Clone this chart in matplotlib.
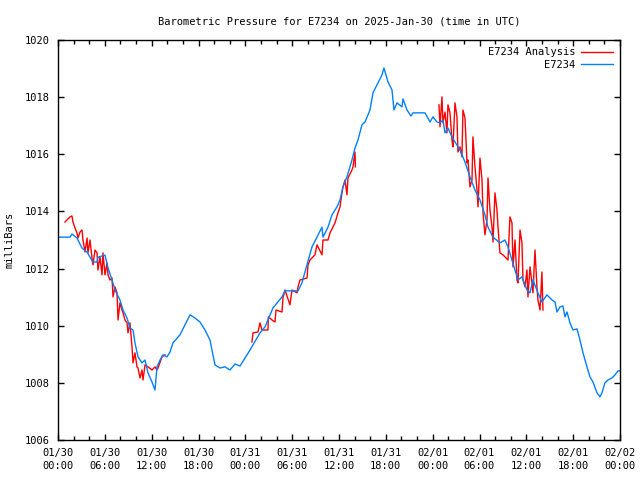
import numpy as np
import matplotlib
matplotlib.use("Agg")
import matplotlib.pyplot as plt

# hours since 2025-01-30 00:00 UTC
obs_hours = [0.00, 0.51, 1.54, 1.79, 2.43, 3.07, 3.72, 4.10, 4.48, 5.00, 5.12, 6.02, 6.41, 6.92,
             7.30, 7.94, 8.33, 8.84, 9.22, 9.61, 9.86, 10.25, 10.76, 11.15, 11.53, 12.04, 12.43,
             12.68, 13.07, 13.45, 13.96, 14.35, 14.73, 15.63, 16.27, 16.91, 17.55, 18.19, 18.83,
             19.47, 20.11, 20.75, 21.39, 22.03, 22.68, 23.32, 24.60, 24.98, 25.88, 26.52, 27.54,
             28.70, 29.08, 30.75, 31.26, 31.64, 32.54, 33.18, 33.82, 33.95, 34.59, 35.10, 35.74,
             36.13, 36.51, 37.02, 37.66, 38.05, 38.43, 38.94, 39.33, 39.97, 40.35, 40.87, 41.51,
             41.76, 42.28, 42.79, 43.04, 43.43, 44.07, 44.20, 44.71, 45.22, 45.48, 47.02, 47.66,
             48.04, 48.55, 48.94, 49.32, 49.58, 49.96, 50.47, 50.86, 51.50, 52.14, 52.78, 53.42,
             54.06, 54.70, 55.09, 55.73, 56.62, 57.26, 57.65, 58.16, 58.55, 58.93, 59.44, 60.08,
             60.47, 60.85, 61.49, 62.00, 62.64, 63.29, 63.67, 63.93, 64.31, 64.69, 64.95, 65.21,
             65.59, 65.98, 66.49, 66.87, 67.26, 67.77, 68.15, 68.54, 69.05, 69.43, 69.69, 70.07,
             70.46, 70.97, 71.36, 71.74, 72.00]
obs_mb = [1013.10, 1013.10, 1013.10, 1013.21, 1013.07, 1012.72, 1012.58, 1012.40, 1012.23, 1012.23,
          1012.40, 1012.47, 1012.02, 1011.60, 1011.25, 1010.90, 1010.55, 1010.27, 1009.92, 1009.85,
          1009.40, 1008.91, 1008.70, 1008.80, 1008.35, 1008.03, 1007.75, 1008.56, 1008.80, 1008.98,
          1008.91, 1009.08, 1009.40, 1009.68, 1010.03, 1010.38, 1010.27, 1010.13, 1009.85, 1009.50,
          1008.63, 1008.52, 1008.56, 1008.45, 1008.66, 1008.59, 1009.15, 1009.33, 1009.75, 1009.96,
          1010.62, 1011.01, 1011.22, 1011.22, 1011.50, 1011.88, 1012.76, 1013.10, 1013.45, 1013.10,
          1013.45, 1013.88, 1014.16, 1014.40, 1014.86, 1015.21, 1015.80, 1016.22, 1016.50, 1017.03,
          1017.13, 1017.55, 1018.15, 1018.43, 1018.78, 1019.02, 1018.53, 1018.25, 1017.55, 1017.80,
          1017.66, 1017.94, 1017.55, 1017.34, 1017.45, 1017.45, 1017.13, 1017.31, 1017.13, 1017.10,
          1017.20, 1016.75, 1016.92, 1016.61, 1016.43, 1016.15, 1015.73, 1015.21, 1014.75, 1014.40,
          1013.88, 1013.45, 1013.10, 1012.90, 1013.00, 1012.76, 1012.30, 1011.95, 1011.60, 1011.71,
          1011.25, 1011.15, 1011.60, 1011.15, 1010.83, 1011.08, 1010.90, 1010.83, 1010.48, 1010.66,
          1010.69, 1010.31, 1010.48, 1010.10, 1009.85, 1009.89, 1009.50, 1009.05, 1008.56, 1008.21,
          1008.03, 1007.65, 1007.51, 1007.65, 1008.00, 1008.10, 1008.17, 1008.28, 1008.42, 1008.42]

ana_hours_1 = [0.90, 1.54, 1.79, 1.92, 2.18, 2.43, 2.56, 2.82, 3.07, 3.20, 3.46, 3.72, 3.84, 4.10,
               4.36, 4.48, 4.74, 5.00, 5.12, 5.38, 5.64, 5.76, 6.02, 6.28, 6.41, 6.66, 6.92, 7.05,
               7.30, 7.56, 7.69, 7.94, 8.20, 8.33, 8.58, 8.84, 8.97, 9.22, 9.48, 9.61, 9.86, 10.12,
               10.25, 10.50, 10.76, 10.89, 11.15, 11.53, 12.04, 12.43, 12.68, 12.81, 13.32, 13.71]
ana_mb_1 = [1013.63, 1013.81, 1013.84, 1013.63, 1013.42, 1013.25, 1013.07, 1013.28, 1013.35, 1013.00,
            1012.58, 1013.07, 1012.55, 1013.00, 1012.37, 1012.13, 1012.65, 1012.55, 1011.95, 1012.41,
            1011.78, 1012.55, 1011.78, 1012.20, 1011.78, 1011.60, 1011.67, 1011.01, 1011.36, 1011.15,
            1010.20, 1010.80, 1010.55, 1010.45, 1010.20, 1010.10, 1009.75, 1010.10, 1009.26, 1008.70,
            1009.05, 1008.56, 1008.52, 1008.17, 1008.45, 1008.10, 1008.63, 1008.56, 1008.45, 1008.56,
            1008.45, 1008.52, 1008.91, 1008.98]

ana_hours_2 = [24.85, 24.98, 25.62, 25.88, 26.13, 26.90, 26.95, 27.42, 27.80, 27.93, 28.70, 28.82,
               29.08, 29.72, 29.98, 30.62, 30.75, 31.00, 31.90, 32.03, 32.28, 32.67, 32.92, 33.18,
               33.82, 33.95, 34.59, 34.85, 35.49, 35.87, 36.13, 36.38, 36.51, 36.77, 37.02, 37.15,
               37.66, 37.79, 38.05, 38.10]
ana_mb_2 = [1009.43, 1009.75, 1009.78, 1010.10, 1009.85, 1009.85, 1010.31, 1010.20, 1010.13, 1010.55,
            1010.48, 1010.97, 1011.25, 1010.73, 1011.25, 1011.15, 1011.36, 1011.60, 1011.67, 1012.13,
            1012.30, 1012.41, 1012.48, 1012.83, 1012.48, 1013.00, 1013.00, 1013.25, 1013.60, 1013.95,
            1014.16, 1014.65, 1014.86, 1015.10, 1014.58, 1015.17, 1015.45, 1015.56, 1016.08, 1015.56]

ana_hours_3 = [48.81, 48.94, 49.19, 49.32, 49.58, 49.83, 49.96, 50.22, 50.47, 50.60, 50.86, 51.11,
               51.24, 51.50, 51.75, 51.88, 52.14, 52.40, 52.52, 52.78, 53.04, 53.16, 53.42, 53.68,
               53.81, 54.06, 54.32, 54.45, 54.70, 54.96, 55.09, 55.34, 55.60, 55.73, 55.98, 56.24,
               56.37, 56.62, 57.01, 57.65, 57.90, 58.16, 58.29, 58.55, 58.80, 58.93, 59.19, 59.44,
               59.57, 59.83, 60.08, 60.21, 60.47, 60.72, 60.85, 61.11, 61.36, 61.49, 61.75, 62.00,
               62.13]
ana_mb_3 = [1017.73, 1016.96, 1018.01, 1017.10, 1017.48, 1016.75, 1017.73, 1017.45, 1016.50, 1016.26,
            1017.80, 1017.31, 1016.08, 1016.26, 1015.91, 1017.55, 1017.27, 1015.70, 1015.80, 1014.86,
            1015.10, 1016.61, 1015.56, 1014.75, 1014.16, 1015.87, 1015.10, 1013.95, 1013.18, 1013.70,
            1015.17, 1014.05, 1013.46, 1012.93, 1014.65, 1014.05, 1013.46, 1012.55, 1012.48, 1012.30,
            1013.81, 1013.60, 1012.06, 1013.00, 1011.60, 1011.50, 1013.35, 1012.90, 1011.60, 1011.36,
            1011.95, 1011.01, 1012.06, 1011.50, 1011.15, 1012.65, 1011.36, 1010.90, 1010.55, 1011.88,
            1010.55]

x_tick_hours = [0, 6, 12, 18, 24, 30, 36, 42, 48, 54, 60, 66, 72]
x_tick_labels = ["01/30\n00:00", "01/30\n06:00", "01/30\n12:00", "01/30\n18:00",
                 "01/31\n00:00", "01/31\n06:00", "01/31\n12:00", "01/31\n18:00",
                 "02/01\n00:00", "02/01\n06:00", "02/01\n12:00", "02/01\n18:00",
                 "02/02\n00:00"]
y_ticks = [1006, 1008, 1010, 1012, 1014, 1016, 1018, 1020]

plt.rcParams['font.family'] = ['DejaVu Sans Mono']
FS = 7.5

fig = plt.figure(figsize=(6.4, 4.8), dpi=100)
ax = fig.add_axes([58/640, 40/480, 562/640, 400/480])

ana_h = ana_hours_1 + [np.nan] + ana_hours_2 + [np.nan] + ana_hours_3
ana_v = ana_mb_1 + [np.nan] + ana_mb_2 + [np.nan] + ana_mb_3

ax.plot(ana_h, ana_v, color='#ff0000', lw=1.0, label='E7234 Analysis')
ax.plot(obs_hours, obs_mb, color='#0080ff', lw=1.0, label='E7234')

ax.set_xlim(0, 72)
ax.set_ylim(1006, 1020)
ax.set_xticks(x_tick_hours)
ax.set_xticklabels(x_tick_labels, fontsize=FS, linespacing=1.35)
ax.set_xticks(np.arange(0, 73, 2), minor=True)
ax.set_yticks(y_ticks)
ax.set_yticklabels([str(v) for v in y_ticks], fontsize=FS)
ax.tick_params(which='both', direction='in', top=True, right=True, width=1.0, color='black')
ax.tick_params(which='major', length=4, pad=6)
ax.tick_params(which='minor', length=3)
for s in ax.spines.values():
    s.set_linewidth(1.0)

ax.set_ylabel('milliBars', fontsize=FS, labelpad=7)
ax.set_title('Barometric Pressure for E7234 on 2025-Jan-30 (time in UTC)', fontsize=FS, pad=11)

leg = ax.legend(loc='upper right', frameon=False, markerfirst=False, fontsize=FS,
                handlelength=3.0, borderaxespad=0.3, labelspacing=0.25, handletextpad=0.6)

fig.savefig('out.png', dpi=100)
